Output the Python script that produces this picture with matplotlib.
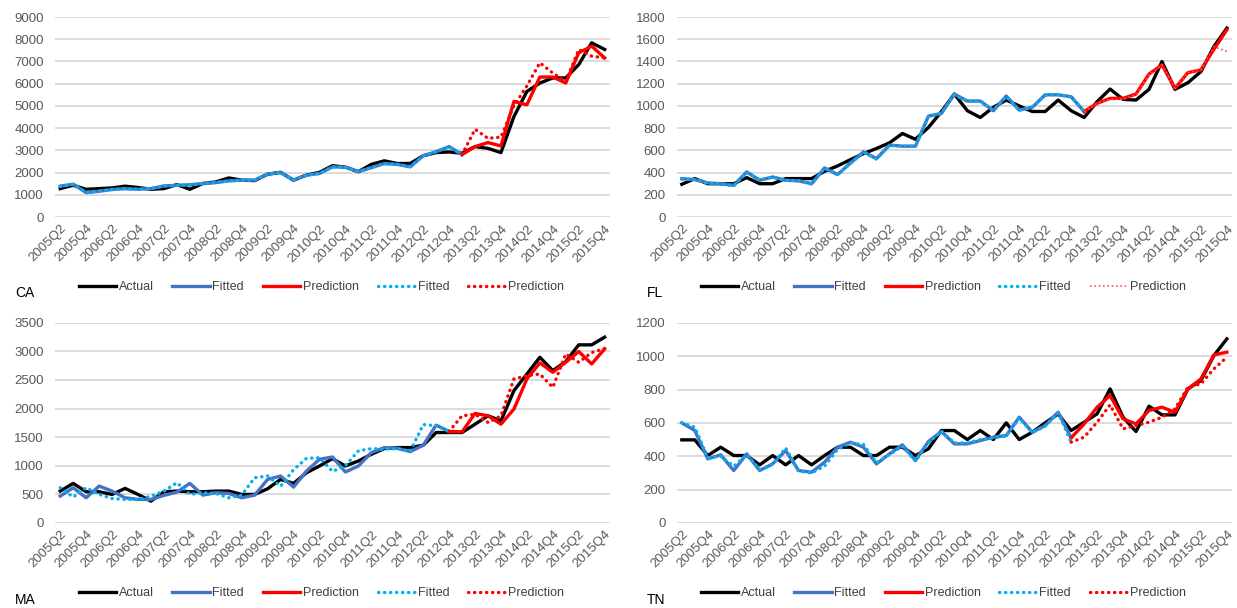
import matplotlib
matplotlib.use("Agg")
import matplotlib.pyplot as plt
import numpy as np

plt.rcParams['font.family'] = ['Liberation Sans', 'DejaVu Sans']

quarters = [f"{y}Q{q}" for y in range(2005, 2016) for q in range(1, 5)][1:]
tick_labels = quarters[::2]

# CA
ca_actual = [1280, 1430, 1250, 1280, 1310, 1390, 1330, 1250, 1280, 1460, 1250, 1510, 1580, 1760, 1660,
             1640, 1930, 2010, 1660, 1890, 2010, 2310, 2250, 2040, 2370, 2530, 2410, 2410, 2760, 2900,
             2930, 2870, 3170, 3090, 2900, 4520, 5650, 6030, 6260, 6260, 6860, 7840, 7540]
ca_fitted = [1390, 1480, 1100, 1160, 1240, 1280, 1250, 1280, 1400, 1430, 1450, 1510, 1550, 1630, 1660,
             1660, 1930, 2010, 1660, 1890, 1960, 2260, 2250, 2040, 2220, 2410, 2370, 2260, 2760, 2940,
             3170, 2810]
ca_fitted_dot = [1380, 1470, 1110, 1170, 1240, 1270, 1250, 1290, 1390, 1430, 1440, 1510, 1550, 1620, 1660,
                 1670, 1920, 2000, 1670, 1880, 1970, 2250, 2240, 2050, 2230, 2400, 2370, 2270, 2750, 2950,
                 3160, 2810]
ca_pred = [2810, 3170, 3350, 3200, 5200, 5050, 6300, 6300, 6030, 7390, 7690, 7160]
ca_pred_dot = [2810, 3950, 3540, 3600, 5000, 5900, 6940, 6480, 6100, 7540, 7240, 7160]

# FL
fl_actual = [295, 346, 300, 300, 300, 355, 300, 300, 346, 346, 346, 412, 460, 517, 571, 617, 668, 752,
             700, 806, 948, 1107, 957, 896, 987, 1053, 1000, 950, 950, 1053, 957, 896, 1038, 1152, 1059,
             1053, 1149, 1399, 1149, 1209, 1309, 1534, 1700]
fl_fitted = [346, 337, 307, 300, 286, 406, 331, 361, 331, 325, 300, 442, 382, 487, 587, 526, 647, 638,
             638, 908, 932, 1107, 1044, 1044, 957, 1089, 963, 987, 1100, 1100, 1083, 950]
fl_fitted_dot = [340, 337, 305, 298, 280, 400, 335, 358, 330, 328, 296, 440, 385, 480, 585, 520, 645, 640,
                 636, 905, 935, 1100, 1040, 1046, 960, 1085, 960, 990, 1098, 1102, 1080, 950]
fl_pred = [950, 1023, 1068, 1068, 1107, 1287, 1369, 1158, 1300, 1324, 1510, 1685]
fl_pred_dot = [950, 1023, 1060, 1060, 1100, 1280, 1369, 1158, 1300, 1324, 1534, 1490]

# MA
ma_actual = [556, 691, 545, 545, 498, 603, 498, 381, 545, 556, 545, 545, 556, 556, 498, 498, 597, 761,
             691, 878, 995, 1124, 995, 1083, 1200, 1300, 1317, 1317, 1358, 1581, 1581, 1581, 1727, 1874,
             1786, 2313, 2605, 2898, 2664, 2822, 3115, 3115, 3250]
ma_fitted = [468, 615, 439, 644, 556, 439, 410, 410, 480, 539, 691, 486, 527, 515, 439, 486, 761, 820,
             626, 907, 1112, 1153, 890, 995, 1230, 1317, 1306, 1247, 1358, 1710, 1600]
ma_fitted_dot = [615, 451, 615, 498, 427, 410, 410, 468, 556, 703, 498, 527, 515, 439, 486, 790, 820, 640,
                 930, 1130, 1140, 900, 1000, 1260, 1300, 1290, 1300, 1250, 1720, 1700, 1600]
ma_pred = [1600, 1593, 1915, 1874, 1727, 1990, 2518, 2799, 2635, 2810, 2998, 2781, 3045]
ma_pred_dot = [1600, 1874, 1900, 1757, 1874, 2518, 2576, 2605, 2371, 2957, 2810, 2980, 3050]

# TN
tn_actual = [498, 498, 404, 454, 404, 404, 348, 404, 348, 404, 348, 404, 454, 454, 404, 404, 454, 454,
             404, 444, 554, 554, 500, 554, 500, 600, 500, 544, 600, 654, 554, 604, 654, 804, 634, 548,
             700, 648, 648, 804, 854, 1004, 1104]
tn_fitted = [600, 554, 384, 408, 314, 414, 314, 354, 434, 314, 304, 364, 454, 484, 454, 354, 414, 468,
             374, 488, 548, 474, 474, 494, 514, 524, 634, 544, 584, 664, 510]
tn_fitted_dot = [600, 574, 390, 400, 340, 410, 320, 350, 450, 310, 300, 340, 440, 480, 470, 360, 410, 460,
                 370, 480, 550, 480, 480, 500, 510, 520, 630, 540, 580, 660, 484]
tn_pred = [510, 594, 694, 764, 624, 594, 674, 694, 664, 804, 864, 1008, 1024]
tn_pred_dot = [484, 514, 604, 708, 564, 584, 604, 634, 684, 814, 834, 924, 994]

BLUE = "#4472C4"
CYAN = "#00B0F0"
RED = "#FF0000"
DOTS = (0, (0.1, 1.7))


def plot_panel(ax, actual, fitted, fitted_dot, pred, pred_dot, ymax, ystep, thin_pred_dot=False):
    x = np.arange(len(quarters))
    split = len(fitted) - 1
    ax.plot(x, actual, color="black", lw=2.4, label="Actual", zorder=3)
    ax.plot(x[:split + 1], fitted, color=BLUE, lw=2.4, label="Fitted", zorder=3)
    ax.plot(x[split:], pred, color=RED, lw=2.4, label="Prediction", zorder=3)
    ax.plot(x[:split + 1], fitted_dot, color=CYAN, lw=2.4, ls=DOTS,
            dash_capstyle="round", label="Fitted", zorder=4)
    if thin_pred_dot:
        ax.plot(x[split:], pred_dot, color="#FF5050", lw=1.2, ls=(0, (1, 1.6)),
                label="Prediction", zorder=4)
    else:
        ax.plot(x[split:], pred_dot, color=RED, lw=2.4, ls=DOTS,
                dash_capstyle="round", label="Prediction", zorder=4)

    ax.set_xlim(-0.4, len(quarters) - 0.6)
    ax.set_ylim(0, ymax)
    ax.set_yticks(np.arange(0, ymax + 1, ystep))
    ax.set_xticks(x[::2])
    ax.set_xticklabels(tick_labels, rotation=45, ha="right", rotation_mode="anchor")
    ax.tick_params(axis="both", length=0, labelsize=9.5, colors="#595959")
    ax.tick_params(axis="y", pad=8)
    ax.tick_params(axis="x", pad=4)
    ax.grid(axis="y", color="#D9D9D9", lw=1.3)
    ax.set_axisbelow(True)
    for s in ax.spines.values():
        s.set_visible(False)
    ax.legend(ncol=5, loc="center", bbox_to_anchor=(0.48, -0.35), frameon=False,
              fontsize=9, handlelength=3.0, columnspacing=1.5, handletextpad=0.2,
              labelcolor="#404040")


fig = plt.figure(figsize=(12.37, 6.08), dpi=100)
ax_ca = fig.add_axes([0.0445, 0.643, 0.4485, 0.329])
ax_fl = fig.add_axes([0.547, 0.643, 0.449, 0.329])
ax_ma = fig.add_axes([0.0445, 0.140, 0.4485, 0.329])
ax_tn = fig.add_axes([0.547, 0.140, 0.449, 0.329])

plot_panel(ax_ca, ca_actual, ca_fitted, ca_fitted_dot, ca_pred, ca_pred_dot, 9000, 1000)
plot_panel(ax_fl, fl_actual, fl_fitted, fl_fitted_dot, fl_pred, fl_pred_dot, 1800, 200, thin_pred_dot=True)
plot_panel(ax_ma, ma_actual, ma_fitted, ma_fitted_dot, ma_pred, ma_pred_dot, 3500, 500)
plot_panel(ax_tn, tn_actual, tn_fitted, tn_fitted_dot, tn_pred, tn_pred_dot, 1200, 200)

for name, xf, yf in [("CA", 0.012, 0.518), ("FL", 0.523, 0.518), ("MA", 0.012, 0.013), ("TN", 0.523, 0.013)]:
    fig.text(xf, yf, name, fontsize=10, color="black", va="center")

fig.savefig("out.png", dpi=100, facecolor="white")
